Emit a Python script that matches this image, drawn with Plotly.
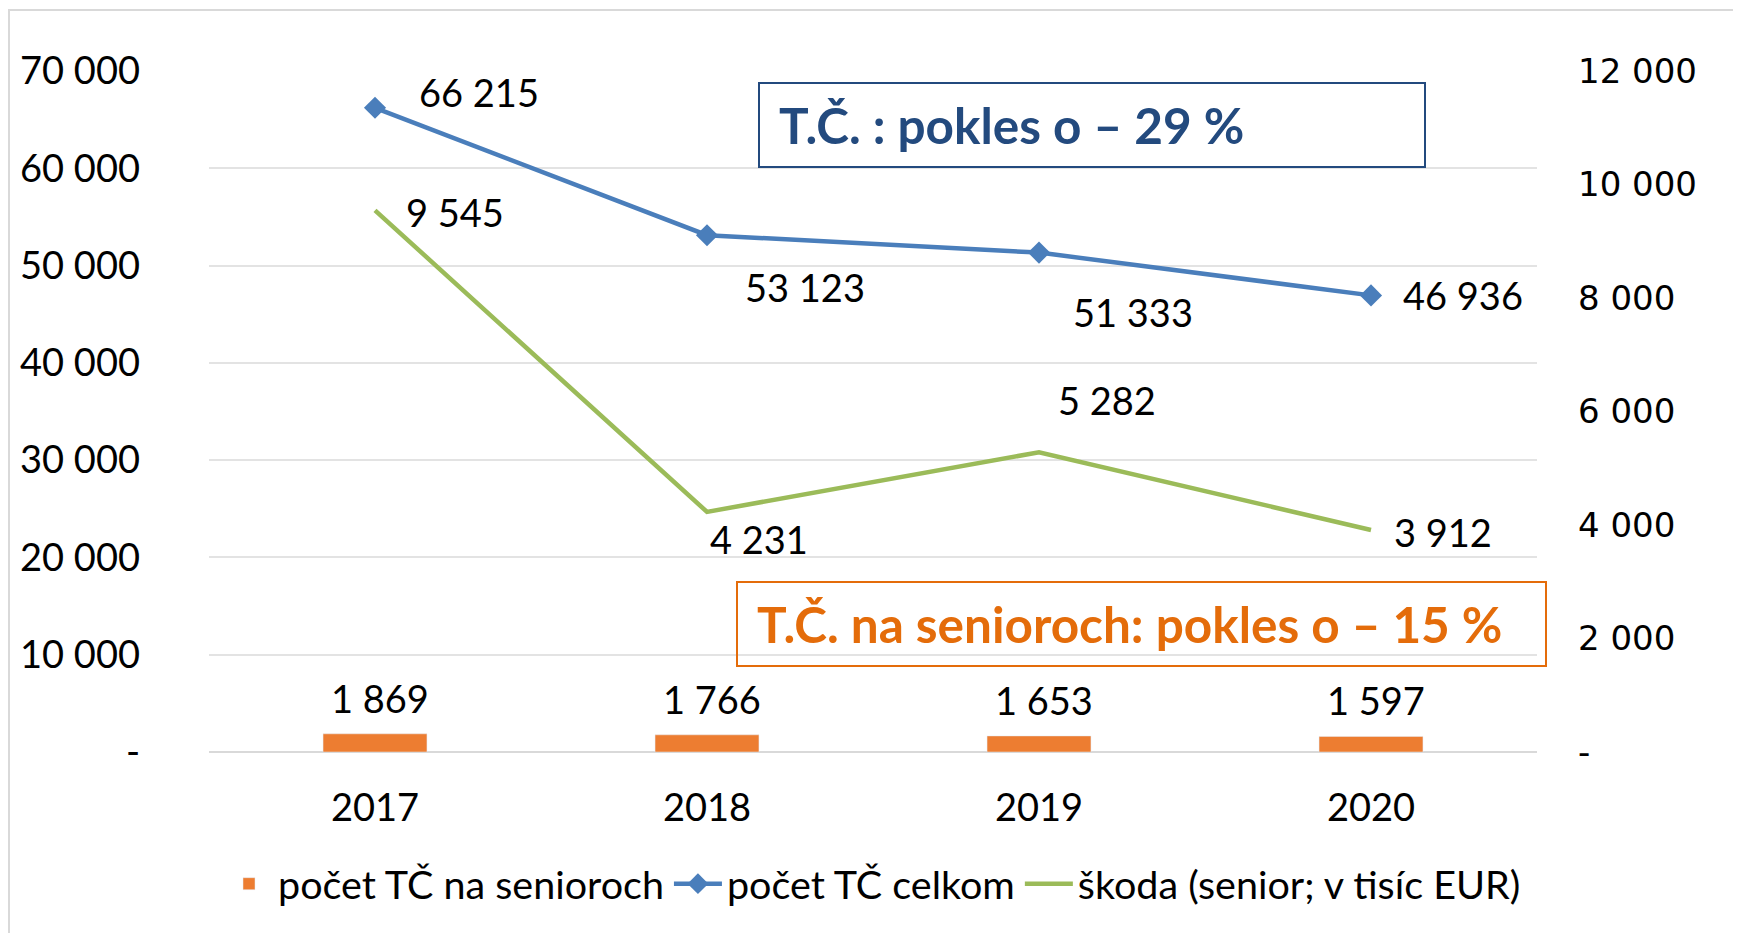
import plotly.graph_objects as go

# ---- data ----
years = ["2017", "2018", "2019", "2020"]
tc_seniori = [1869, 1766, 1653, 1597]          # bars, left axis
tc_celkom = [66215, 53123, 51333, 46936]        # blue line, left axis
skoda = [9545, 4231, 5282, 3912]                # green line, right axis (tisíc EUR)

left_tickvals = [0, 10000, 20000, 30000, 40000, 50000, 60000, 70000]
left_ticktext = ["-", "10 000", "20 000", "30 000", "40 000", "50 000", "60 000", "70 000"]
right_tickvals = [0, 2000, 4000, 6000, 8000, 10000, 12000]
right_ticktext = ["-", "2 000", "4 000", "6 000", "8 000", "10 000", "12 000"]

names = ["počet TČ na senioroch", "počet TČ celkom", "škoda (senior; v tisíc EUR)"]
box1_text = "T.Č. : pokles o – 29 %"
box2_text = "T.Č. na senioroch: pokles o – 15 %"

# ---- style / layout ----
OFF = 8                      # page body margin
W, H = 1741 - OFF, 933 - OFF
L, R, T, B = 209 - OFF, 1537 - OFF, 71 - OFF, 752 - OFF   # plot area in figure pixels
FONT = "Lato, Carlito, Calibri, sans-serif"
FS = 38
ORANGE = "#ED7D31"
BLUE = "#4A7EBB"
GREEN = "#9BBB59"
DARKBLUE = "#234A7E"
BOXORANGE = "#E46C0A"

def px_x(p):   # p = screen pixel (reference coords)
    return (p - OFF - L) / (R - L)

def px_y(p):
    return (B - (p - OFF)) / (B - T)

def fmt(v):
    return f"{v:,}".replace(",", " ")

# label offsets (pixels) relative to the data point
blue_off = [(104, 16), (98, -52), (94, -59), (92, 0)]
green_off = [(80, -2), (52, -27), (68, 52), (72, -2)]
bar_off = (5, 36)

fig = go.Figure()
fig.add_trace(go.Bar(
    x=years, y=tc_seniori, name=names[0], marker_color=ORANGE,
    width=0.313, yaxis="y",
))
fig.add_trace(go.Scatter(
    x=years, y=tc_celkom, name=names[1], mode="lines+markers",
    line=dict(color=BLUE, width=4.5), marker=dict(symbol="diamond", size=17, color=BLUE),
    yaxis="y",
))
fig.add_trace(go.Scatter(
    x=years, y=skoda, name=names[2], mode="lines",
    line=dict(color=GREEN, width=4.5), yaxis="y2",
))

lab_font = dict(family=FONT, size=FS, color="black")
ann = []
for i, v in enumerate(tc_celkom):
    dx, dy = blue_off[i]
    ann.append(dict(x=i, y=v, xref="x", yref="y", text=fmt(v), showarrow=False,
                    xshift=dx, yshift=dy, font=lab_font))
for i, v in enumerate(skoda):
    dx, dy = green_off[i]
    ann.append(dict(x=i, y=v, xref="x", yref="y2", text=fmt(v), showarrow=False,
                    xshift=dx, yshift=dy, font=lab_font))
for i, v in enumerate(tc_seniori):
    ann.append(dict(x=i, y=v, xref="x", yref="y", text=fmt(v), showarrow=False,
                    xshift=bar_off[0], yshift=bar_off[1], font=lab_font))

ann.append(dict(x=px_x(777), y=px_y(125), xref="paper", yref="paper", xanchor="left", yanchor="middle",
                text="<b>" + box1_text + "</b>", showarrow=False,
                font=dict(family=FONT, size=49.5, color=DARKBLUE)))
ann.append(dict(x=px_x(755), y=px_y(624), xref="paper", yref="paper", xanchor="left", yanchor="middle",
                text="<b>" + box2_text + "</b>", showarrow=False,
                font=dict(family=FONT, size=49.5, color=BOXORANGE)))

shapes = [
    dict(type="rect", xref="paper", yref="paper", x0=px_x(9), x1=px_x(1736), y0=px_y(950), y1=px_y(10),
         line=dict(color="#D9D9D9", width=2), fillcolor="rgba(0,0,0,0)", layer="below"),
    dict(type="rect", xref="paper", yref="paper", x0=px_x(759), x1=px_x(1425), y0=px_y(167), y1=px_y(83),
         line=dict(color=DARKBLUE, width=2), fillcolor="white", layer="above"),
    dict(type="rect", xref="paper", yref="paper", x0=px_x(737), x1=px_x(1546), y0=px_y(666), y1=px_y(582),
         line=dict(color=BOXORANGE, width=2), fillcolor="rgba(0,0,0,0)", layer="above"),
]

fig.update_layout(
    width=W, height=H,
    margin=dict(l=L, r=W - R, t=T, b=H - B, pad=0),
    paper_bgcolor="white", plot_bgcolor="white",
    font=dict(family=FONT, size=FS, color="black"),
    showlegend=True,
    legend=dict(orientation="h", x=0.5, xanchor="center", y=px_y(884), yanchor="middle",
                font=dict(family=FONT, size=39.5, color="black"), itemwidth=48,
                tracegroupgap=0, bgcolor="rgba(0,0,0,0)"),
    xaxis=dict(type="category", categoryorder="array", categoryarray=years,
               showgrid=False, showline=False, zeroline=False, ticks="",
               tickfont=dict(family=FONT, size=FS), ticklabelstandoff=30,
               range=[-0.5, 3.5]),
    yaxis=dict(range=[0, 70000], tickvals=left_tickvals, ticktext=left_ticktext,
               showgrid=True, gridcolor="#E3E3E3", gridwidth=2,
               zeroline=True, zerolinecolor="#D9D9D9", zerolinewidth=2,
               showline=False, ticks="", tickfont=dict(family=FONT, size=FS),
               ticklabelstandoff=68),
    yaxis2=dict(range=[0, 12000], tickvals=right_tickvals, ticktext=right_ticktext,
                overlaying="y", side="right", showgrid=False, zeroline=False,
                showline=False, ticks="", tickfont=dict(family="DejaVu Sans", size=34, color="black"),
                ticklabelstandoff=40),
    annotations=ann,
    shapes=shapes,
    bargap=0.6,
)

fig.write_html("out.html")
